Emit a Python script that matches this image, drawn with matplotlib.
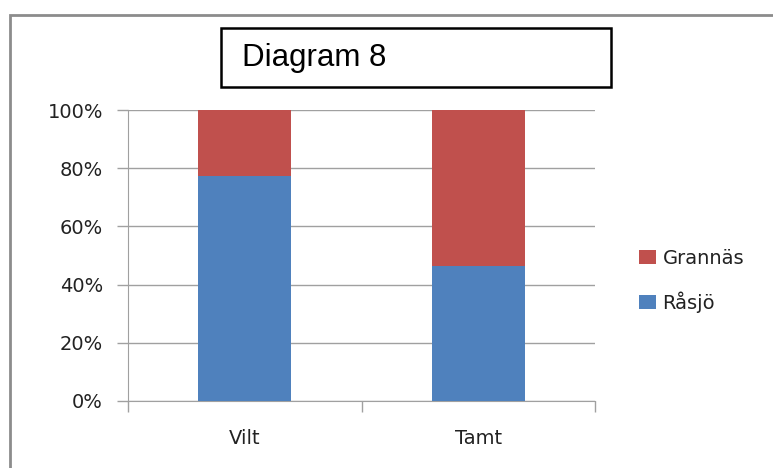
import matplotlib
matplotlib.use('Agg')
import matplotlib.pyplot as plt
from matplotlib.patches import Rectangle

# data (share of each category, %)
categories = ['Vilt', 'Tamt']
rasjo = [77.3, 46.5]
grannas = [22.7, 53.5]
yticks = [0, 20, 40, 60, 80, 100]
ytick_labels = ['0%', '20%', '40%', '60%', '80%', '100%']

blue = '#4F81BD'
red = '#C0504D'
grid_col = '#A0A0A0'
W, H = 773, 468

plt.rcParams['font.family'] = ['DejaVu Sans']

fig = plt.figure(figsize=(W / 100, H / 100), dpi=100)

# outer chart border (only top and left visible)
fig.add_artist(Rectangle((9.5 / W, 0 - 0.1), 1.2, (H - 15) / H + 0.1,
                         transform=fig.transFigure, fill=False,
                         edgecolor='#8C8C8C', linewidth=2))

ax = fig.add_axes([128 / W, (H - 401) / H, (595 - 128) / W, (401 - 110) / H])

x = range(len(categories))
ax.bar(x, rasjo, width=0.4, color=blue, label='Råsjö', zorder=3)
ax.bar(x, grannas, width=0.4, bottom=rasjo, color=red, label='Grannäs', zorder=3)

ax.set_xlim(-0.5, 1.5)
ax.set_ylim(0, 100)
ax.set_yticks(yticks)
ax.set_yticklabels(ytick_labels)
ax.set_xticks([-0.5, 0.5, 1.5])
ax.set_xticklabels([])
ax.set_xticks(list(x), minor=True)
ax.set_xticklabels(categories, minor=True)
ax.tick_params(axis='x', which='minor', length=0, pad=20, labelsize=14, colors='#222222')
ax.tick_params(axis='x', which='major', length=8, color=grid_col, width=1)
ax.tick_params(axis='y', length=8, color=grid_col, width=1, labelsize=14, pad=10,
               labelcolor='#222222')

ax.yaxis.grid(True, color=grid_col, linewidth=1, zorder=0)
for s in ['top', 'right']:
    ax.spines[s].set_visible(False)
ax.spines['left'].set_color(grid_col)
ax.spines['bottom'].set_color(grid_col)

handles, labels = ax.get_legend_handles_labels()
leg = fig.legend(handles[::-1], labels[::-1], loc='upper left',
                 bbox_to_anchor=(639 / W, 1 - 249 / H), frameon=False,
                 borderpad=0, borderaxespad=0,
                 fontsize=14, handlelength=0.85, handleheight=0.7,
                 handletextpad=0.36, labelspacing=1.2)
for t in leg.get_texts():
    t.set_color('#222222')

# title box
fig.text(242 / W, 1 - 58 / H, 'Diagram 8', fontsize=22.5, family='Liberation Sans',
         va='center', ha='left')
fig.add_artist(Rectangle((221 / W, 1 - 87 / H), (611 - 221) / W, (87 - 28) / H,
                         transform=fig.transFigure, fill=False,
                         edgecolor='black', linewidth=1.8))

fig.savefig('out.png', dpi=100)
